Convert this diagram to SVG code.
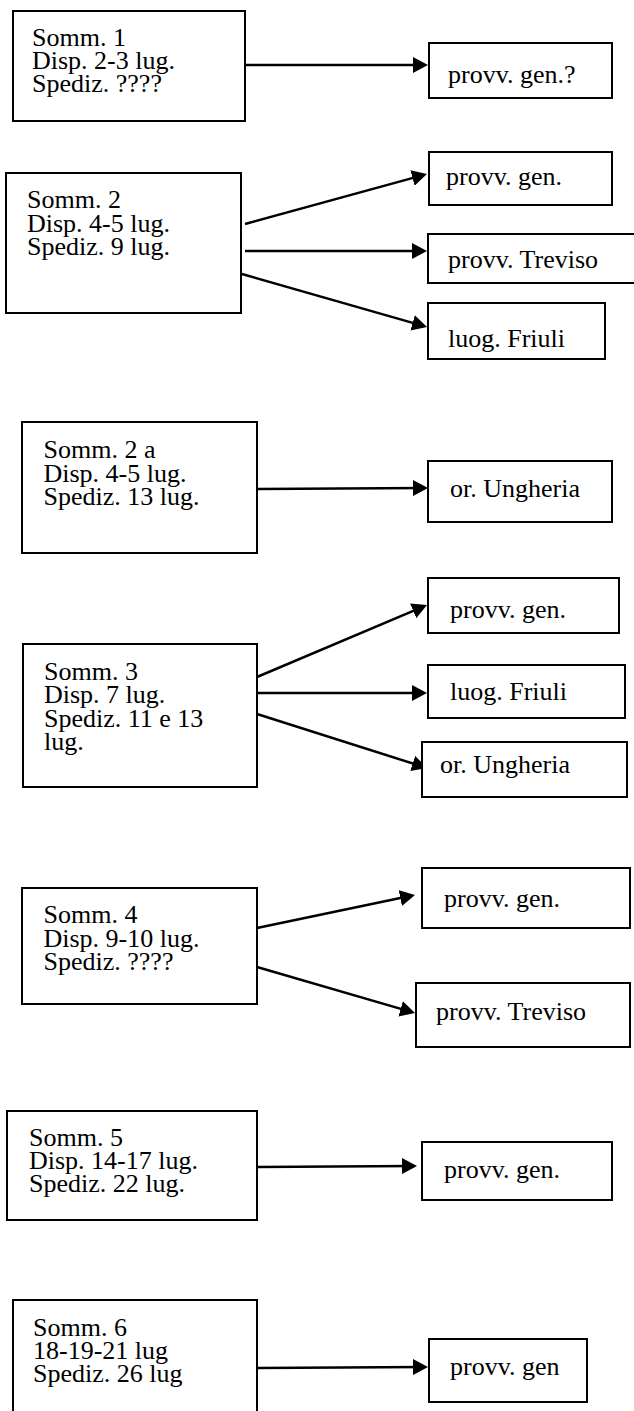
<svg xmlns="http://www.w3.org/2000/svg" width="634" height="1411" viewBox="0 0 634 1411">
  <style>
    .box { fill: #ffffff; stroke: #000000; stroke-width: 2; }
    .lbl { font-family: "Liberation Serif", "Times New Roman", serif; font-size: 26px; fill: #000000; }
    .conn { stroke: #000000; stroke-width: 2.5; fill: none; marker-end: url(#head); }
  </style>
  <defs>
    <marker id="head" markerUnits="userSpaceOnUse" viewBox="0 0 15 16" refX="11" refY="8" markerWidth="15" markerHeight="16" orient="auto">
      <path d="M0,0 L15,8 L0,16 Z" fill="#000000"/>
    </marker>
  </defs>
  <rect width="634" height="1411" fill="#ffffff"/>

  <!-- connectors -->
  <g id="connectors">
    <line class="conn" x1="245" y1="65" x2="424" y2="65"/>
    <line class="conn" x1="245" y1="224" x2="423.1" y2="175.1"/>
    <line class="conn" x1="245" y1="251" x2="423" y2="251"/>
    <line class="conn" x1="242" y1="274" x2="423.2" y2="325.9"/>
    <line class="conn" x1="257" y1="489" x2="424" y2="488"/>
    <line class="conn" x1="257" y1="677" x2="423.3" y2="606.6"/>
    <line class="conn" x1="257" y1="693" x2="423" y2="693"/>
    <line class="conn" x1="257" y1="714" x2="423.2" y2="766.8"/>
    <line class="conn" x1="257" y1="928" x2="411.1" y2="895.8"/>
    <line class="conn" x1="257" y1="967" x2="411.2" y2="1011.9"/>
    <line class="conn" x1="257" y1="1167" x2="413" y2="1166"/>
    <line class="conn" x1="257" y1="1368" x2="424" y2="1367"/>
  </g>

  <!-- Somm. 1 -->
  <g id="somm1">
    <rect class="box" x="13" y="11" width="232" height="110"/>
    <text class="lbl" x="32" y="45.5">Somm. 1</text>
    <text class="lbl" x="32" y="68.5">Disp. 2-3 lug.</text>
    <text class="lbl" x="32" y="91.5">Spediz. ????</text>
  </g>
  <g id="s1-provv-gen">
    <rect class="box" x="429" y="43" width="183" height="55"/>
    <text class="lbl" x="448" y="83">provv. gen.?</text>
  </g>

  <!-- Somm. 2 -->
  <g id="somm2">
    <rect class="box" x="6" y="173" width="235" height="140"/>
    <text class="lbl" x="27" y="208">Somm. 2</text>
    <text class="lbl" x="27" y="231.5">Disp. 4-5 lug.</text>
    <text class="lbl" x="27" y="255">Spediz. 9 lug.</text>
  </g>
  <g id="s2-provv-gen">
    <rect class="box" x="429" y="152" width="183" height="53"/>
    <text class="lbl" x="446" y="185">provv. gen.</text>
  </g>
  <g id="s2-provv-treviso">
    <rect class="box" x="428" y="234" width="212" height="49"/>
    <text class="lbl" x="448" y="268">provv. Treviso</text>
  </g>
  <g id="s2-luog-friuli">
    <rect class="box" x="428" y="303" width="177" height="56"/>
    <text class="lbl" x="448" y="347">luog. Friuli</text>
  </g>

  <!-- Somm. 2 a -->
  <g id="somm2a">
    <rect class="box" x="22" y="422" width="235" height="131"/>
    <text class="lbl" x="43.5" y="458">Somm. 2 a</text>
    <text class="lbl" x="43.5" y="481.5">Disp. 4-5 lug.</text>
    <text class="lbl" x="43.5" y="505">Spediz. 13 lug.</text>
  </g>
  <g id="s2a-or-ungheria">
    <rect class="box" x="428" y="461" width="184" height="61"/>
    <text class="lbl" x="450" y="497">or. Ungheria</text>
  </g>

  <!-- Somm. 3 -->
  <g id="somm3">
    <rect class="box" x="23" y="644" width="234" height="143"/>
    <text class="lbl" x="44" y="680">Somm. 3</text>
    <text class="lbl" x="44" y="703">Disp. 7 lug.</text>
    <text class="lbl" x="44" y="726.5">Spediz. 11 e 13</text>
    <text class="lbl" x="44" y="750">lug.</text>
  </g>
  <g id="s3-provv-gen">
    <rect class="box" x="428" y="578" width="191" height="55"/>
    <text class="lbl" x="450" y="618">provv. gen.</text>
  </g>
  <g id="s3-luog-friuli">
    <rect class="box" x="428" y="665" width="197" height="53"/>
    <text class="lbl" x="450" y="700">luog. Friuli</text>
  </g>
  <g id="s3-or-ungheria">
    <rect class="box" x="422" y="742" width="205" height="55"/>
    <text class="lbl" x="440" y="773">or. Ungheria</text>
  </g>

  <!-- Somm. 4 -->
  <g id="somm4">
    <rect class="box" x="22" y="888" width="235" height="116"/>
    <text class="lbl" x="43.5" y="923">Somm. 4</text>
    <text class="lbl" x="43.5" y="946.5">Disp. 9-10 lug.</text>
    <text class="lbl" x="43.5" y="970">Spediz. ????</text>
  </g>
  <g id="s4-provv-gen">
    <rect class="box" x="422" y="868" width="208" height="60"/>
    <text class="lbl" x="444" y="907">provv. gen.</text>
  </g>
  <g id="s4-provv-treviso">
    <rect class="box" x="416" y="983" width="214" height="64"/>
    <text class="lbl" x="436" y="1020">provv. Treviso</text>
  </g>

  <!-- Somm. 5 -->
  <g id="somm5">
    <rect class="box" x="7" y="1111" width="250" height="109"/>
    <text class="lbl" x="29" y="1146">Somm. 5</text>
    <text class="lbl" x="29" y="1169">Disp. 14-17 lug.</text>
    <text class="lbl" x="29" y="1192">Spediz. 22 lug.</text>
  </g>
  <g id="s5-provv-gen">
    <rect class="box" x="422" y="1142" width="190" height="58"/>
    <text class="lbl" x="444" y="1178">provv. gen.</text>
  </g>

  <!-- Somm. 6 -->
  <g id="somm6">
    <rect class="box" x="13" y="1300" width="244" height="130"/>
    <text class="lbl" x="33" y="1336">Somm. 6</text>
    <text class="lbl" x="33" y="1359">18-19-21 lug</text>
    <text class="lbl" x="33" y="1382">Spediz. 26 lug</text>
  </g>
  <g id="s6-provv-gen">
    <rect class="box" x="429" y="1339" width="158" height="63"/>
    <text class="lbl" x="450" y="1375">provv. gen</text>
  </g>
</svg>
